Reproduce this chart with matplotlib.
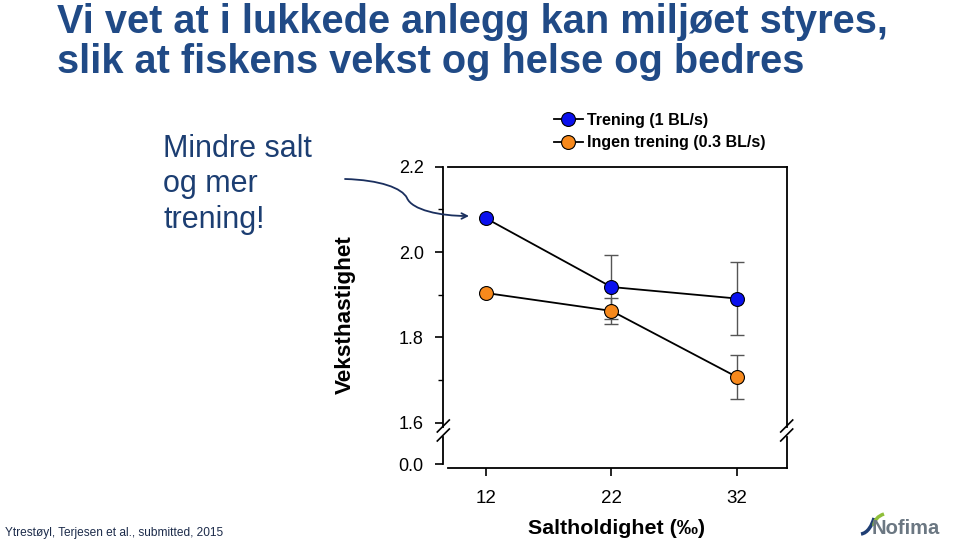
import matplotlib.pyplot as plt
from matplotlib.path import Path
from matplotlib.patches import FancyArrowPatch, PathPatch

plt.rcParams['font.family'] = ['Liberation Sans', 'DejaVu Sans']

salinity = [12, 22, 32]
trening = [2.079, 1.918, 1.891]
trening_err = [0.0, 0.074, 0.085]
ingen = [1.904, 1.862, 1.707]
ingen_err = [0.0, 0.031, 0.051]
labels = ['Trening (1 BL/s)', 'Ingen trening (0.3 BL/s)']
title_lines = ['Vi vet at i lukkede anlegg kan miljøet styres,',
               'slik at fiskens vekst og helse og bedres']
note_lines = ['Mindre salt', 'og mer', 'trening!']

W, H = 959, 541
fig = plt.figure(figsize=(W / 100, H / 100), dpi=100)


def fx(x):
    return x / W


def fy(y):
    return 1 - y / H


xl, xr = 443.3, 786.7
ax = fig.add_axes([fx(xl), fy(427), fx(xr - xl), (427 - 166.7) / H])
axb = fig.add_axes([fx(xl), fy(467.7), fx(xr - xl), (467.7 - 437) / H])

xlim = (8.6, 35.96)
blue = '#0a10ee'
orange = '#f7891c'
ecol = '#555555'

for a in (ax, axb):
    a.set_xlim(*xlim)
    a.patch.set_alpha(0)
    for s in a.spines.values():
        s.set_linewidth(1.3)

for vals, errs, col, lab in [(trening, trening_err, blue, labels[0]),
                             (ingen, ingen_err, orange, labels[1])]:
    ax.errorbar(salinity, vals, yerr=errs, fmt='none', ecolor=ecol, elinewidth=1,
                capsize=5, capthick=1, zorder=2)
    ax.plot(salinity, vals, color='black', lw=1.3, marker='o', ms=10, mfc=col,
            mec='black', mew=0.8, label=lab, zorder=3)

ax.set_ylim(1.6 - 4.3 / 426.7, 2.2)
ax.set_yticks([1.6, 1.8, 2.0, 2.2])
ax.set_yticks([1.7, 1.9, 2.1], minor=True)
ax.set_yticklabels(['1.6', '1.8', '2.0', '2.2'])
ax.set_xticks([])
ax.spines['bottom'].set_visible(False)
ax.spines['top'].set_bounds(8.97, 35.96)
ax.tick_params(axis='y', which='major', direction='out', length=6, width=1.2,
               labelsize=13, pad=8)
ax.tick_params(axis='y', which='minor', direction='out', length=3.5, width=1)

axb.set_ylim(-0.008, 0.064)
axb.set_yticks([0.0])
axb.set_yticklabels(['0.0'])
axb.spines['top'].set_visible(False)
axb.spines['left'].set_bounds(0.0, 0.064)
axb.spines['bottom'].set_bounds(8.97, 35.96)
axb.set_xticks(salinity)
axb.set_xticklabels([str(s) for s in salinity])
axb.tick_params(axis='y', direction='out', length=6, width=1.2, labelsize=13, pad=8)
axb.tick_params(axis='x', direction='out', length=6, width=1.2, labelsize=13.5, pad=10)

# break marks
for xb in (xl, xr):
    for y0 in (432, 441):
        fig.add_artist(plt.Line2D([fx(xb - 6), fx(xb + 6)], [fy(y0), fy(y0 - 12)],
                                  color='black', lw=1.2))

fig.legend(loc='upper left', bbox_to_anchor=(fx(554), fy(113)), frameon=False,
           borderpad=0, borderaxespad=0, handlelength=1.8, handletextpad=0.25,
           labelspacing=0.45, numpoints=1, prop={'weight': 'bold', 'size': 11.5})

fig.text(fx(345), fy(315), 'Veksthastighet', rotation=90, ha='center', va='center',
         fontsize=16.2, fontweight='bold')
fig.text(fx(617), fy(534), 'Saltholdighet (‰)', ha='center', va='baseline',
         fontsize=15.4, fontweight='bold')

title_col = '#204a86'
fig.text(fx(57), fy(33), title_lines[0], ha='left', va='baseline', fontsize=28.6,
         fontweight='bold', color=title_col)
fig.text(fx(57), fy(73), title_lines[1], ha='left', va='baseline', fontsize=28.6,
         fontweight='bold', color=title_col)

note_col = '#1c3e72'
for line, yb in zip(note_lines, [157, 192, 228]):
    fig.text(fx(163), fy(yb), line, ha='left', va='baseline', fontsize=22, color=note_col)

# curved arrow pointing at the first point
verts = [(345, 179), (380, 180), (402, 188), (407, 198),
         (412, 210), (440, 216), (469, 216)]
verts = [(fx(x), fy(y)) for x, y in verts]
codes = [Path.MOVETO] + [Path.CURVE4] * 6
arrow = FancyArrowPatch(path=Path(verts, codes), arrowstyle='->', mutation_scale=10,
                        color='#1a2f5e', lw=1.3, transform=fig.transFigure)
fig.add_artist(arrow)

fig.text(fx(5), fy(536), 'Ytrestøyl, Terjesen et al., submitted, 2015', ha='left',
         va='baseline', fontsize=8.6, color='#1c2b4a')

# logo
fig.text(fx(872), fy(534), 'Nofima', ha='left', va='baseline', fontsize=14.5,
         fontweight='bold', color='#6b7782')
logo = Path([(fx(861), fy(534)), (fx(868), fy(533)), (fx(872), fy(525)), (fx(874), fy(518))],
            [Path.MOVETO, Path.CURVE4, Path.CURVE4, Path.CURVE4])
fig.add_artist(PathPatch(logo, fc='none', ec='#1f3e74', lw=2.5, transform=fig.transFigure))
leaf = Path([(fx(874), fy(526)), (fx(874), fy(520)), (fx(878), fy(516)), (fx(884), fy(514))],
            [Path.MOVETO, Path.CURVE4, Path.CURVE4, Path.CURVE4])
fig.add_artist(PathPatch(leaf, fc='none', ec='#8fbf3a', lw=2.5, transform=fig.transFigure))

fig.savefig('out.png', dpi=100)
